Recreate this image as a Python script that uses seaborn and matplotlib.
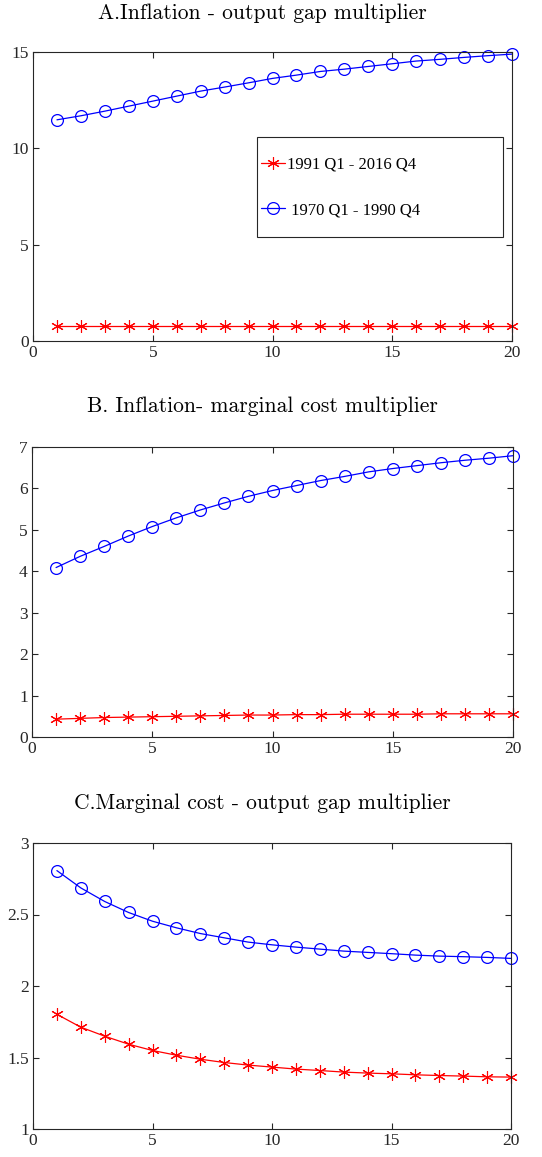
import numpy as np
import pandas as pd
import matplotlib
matplotlib.use("Agg")
import matplotlib.pyplot as plt
import seaborn as sns
from matplotlib.lines import Line2D
from matplotlib.patches import Rectangle

sns.set_theme(style="white")
plt.rcParams['font.family'] = ['Liberation Serif', 'DejaVu Serif']

horizon = list(range(1, 21))

a_recent = [0.78] * 20
a_early = [11.48, 11.69, 11.93, 12.19, 12.45, 12.71, 12.97, 13.18, 13.40, 13.63,
           13.80, 13.99, 14.11, 14.25, 14.39, 14.53, 14.62, 14.72, 14.81, 14.89]

b_recent = [0.43, 0.45, 0.47, 0.48, 0.49, 0.50, 0.51, 0.52, 0.53, 0.53,
            0.54, 0.54, 0.55, 0.55, 0.55, 0.55, 0.56, 0.56, 0.56, 0.56]
b_early = [4.09, 4.36, 4.60, 4.85, 5.08, 5.29, 5.48, 5.65, 5.81, 5.95,
           6.07, 6.19, 6.29, 6.40, 6.48, 6.55, 6.62, 6.68, 6.73, 6.79]

c_recent = [1.802, 1.712, 1.649, 1.593, 1.549, 1.516, 1.488, 1.465, 1.447, 1.433,
            1.419, 1.409, 1.398, 1.391, 1.386, 1.379, 1.374, 1.370, 1.365, 1.363]
c_early = [2.807, 2.686, 2.591, 2.514, 2.453, 2.407, 2.367, 2.337, 2.307, 2.288,
           2.272, 2.258, 2.244, 2.235, 2.226, 2.216, 2.209, 2.205, 2.200, 2.193]

titles = ["A.Inflation - output gap multiplier",
          "B. Inflation- marginal cost multiplier",
          "C.Marginal cost - output gap multiplier"]
label_recent = "1991 Q1 - 2016 Q4"
label_early = " 1970 Q1 - 1990 Q4"

ylims = [(0, 15), (0, 7), (1, 3)]
yticks = [[0, 5, 10, 15], [0, 1, 2, 3, 4, 5, 6, 7], [1, 1.5, 2, 2.5, 3]]
yticklabels = [["0", "5", "10", "15"], ["0", "1", "2", "3", "4", "5", "6", "7"],
               ["1", "1.5", "2", "2.5", "3"]]
xticks = [0, 5, 10, 15, 20]

W, H = 542, 1157
fig = plt.figure(figsize=(W / 100, H / 100), dpi=100)

# axes boxes in pixels: (left, top, right, bottom)
boxes = [(33, 52, 512, 341), (32, 447, 513, 737), (33, 843, 511, 1129)]
title_y = [13, 406, 803]

star = (6, 2, 0)
axc = "#262626"
series = [(a_recent, a_early), (b_recent, b_early), (c_recent, c_early)]

for i, (box, (rec, ear)) in enumerate(zip(boxes, series)):
    l, t, r, b = box
    ax = fig.add_axes([l / W, 1 - b / H, (r - l) / W, (b - t) / H])
    df = pd.DataFrame({"h": horizon, "recent": rec, "early": ear})
    sns.lineplot(data=df, x="h", y="recent", ax=ax, color="#FF0000", lw=0.9,
                 marker=star, markersize=9, markeredgewidth=0.8,
                 markeredgecolor="#FF0000", clip_on=False)
    sns.lineplot(data=df, x="h", y="early", ax=ax, color="#0000FF", lw=0.9,
                 marker="o", markersize=8.5, markerfacecolor="none",
                 markeredgewidth=0.9, markeredgecolor="#0000FF", clip_on=False)
    ax.set_xlim(0, 20)
    ax.set_ylim(*ylims[i])
    ax.set_xticks(xticks)
    ax.set_xticklabels([str(v) for v in xticks])
    ax.set_yticks(yticks[i])
    ax.set_yticklabels(yticklabels[i])
    ax.set_xlabel("")
    ax.set_ylabel("")
    ax.tick_params(direction="in", length=4, width=0.8, colors=axc,
                   labelsize=12.5, top=True, right=True, bottom=True, left=True,
                   pad=3, labelcolor=axc)
    for s in ax.spines.values():
        s.set_visible(True)
        s.set_color(axc)
        s.set_linewidth(0.8)
    for lab in ax.get_xticklabels() + ax.get_yticklabels():
        lab.set_family(['Liberation Serif'])
    cx = 262 / W
    fig.text(cx, 1 - title_y[i] / H, titles[i], ha="center", va="center",
             fontsize=15.5, family=['cmr10', 'DejaVu Serif'], color="#000000")

    if i == 0:
        bw, bh = r - l, b - t
        ax.add_patch(Rectangle(((257 - l) / bw, 1 - (237 - t) / bh),
                               (503 - 257) / bw, (237 - 137) / bh,
                               transform=ax.transAxes, facecolor="white",
                               edgecolor=axc, lw=0.8, zorder=5, clip_on=False))
        handles = [Line2D([], [], color="#FF0000", lw=0.9, marker=star, markersize=9,
                          markeredgewidth=0.8),
                   Line2D([], [], color="#0000FF", lw=0.9, marker="o", markersize=8.5,
                          markerfacecolor="none", markeredgewidth=0.9)]
        leg = ax.legend(handles, [label_recent, label_early],
                        loc="center left",
                        bbox_to_anchor=((261 - l) / bw, 1 - (187.5 - t) / bh),
                        frameon=False, fontsize=12,
                        handlelength=1.45, handletextpad=0.1, labelspacing=1.75,
                        borderpad=0, borderaxespad=0)
        leg.set_zorder(6)
        for txt in leg.get_texts():
            txt.set_family(['Liberation Serif'])
            txt.set_color("#000000")
    else:
        if ax.get_legend() is not None:
            ax.get_legend().remove()

fig.savefig("out.png", dpi=100)
